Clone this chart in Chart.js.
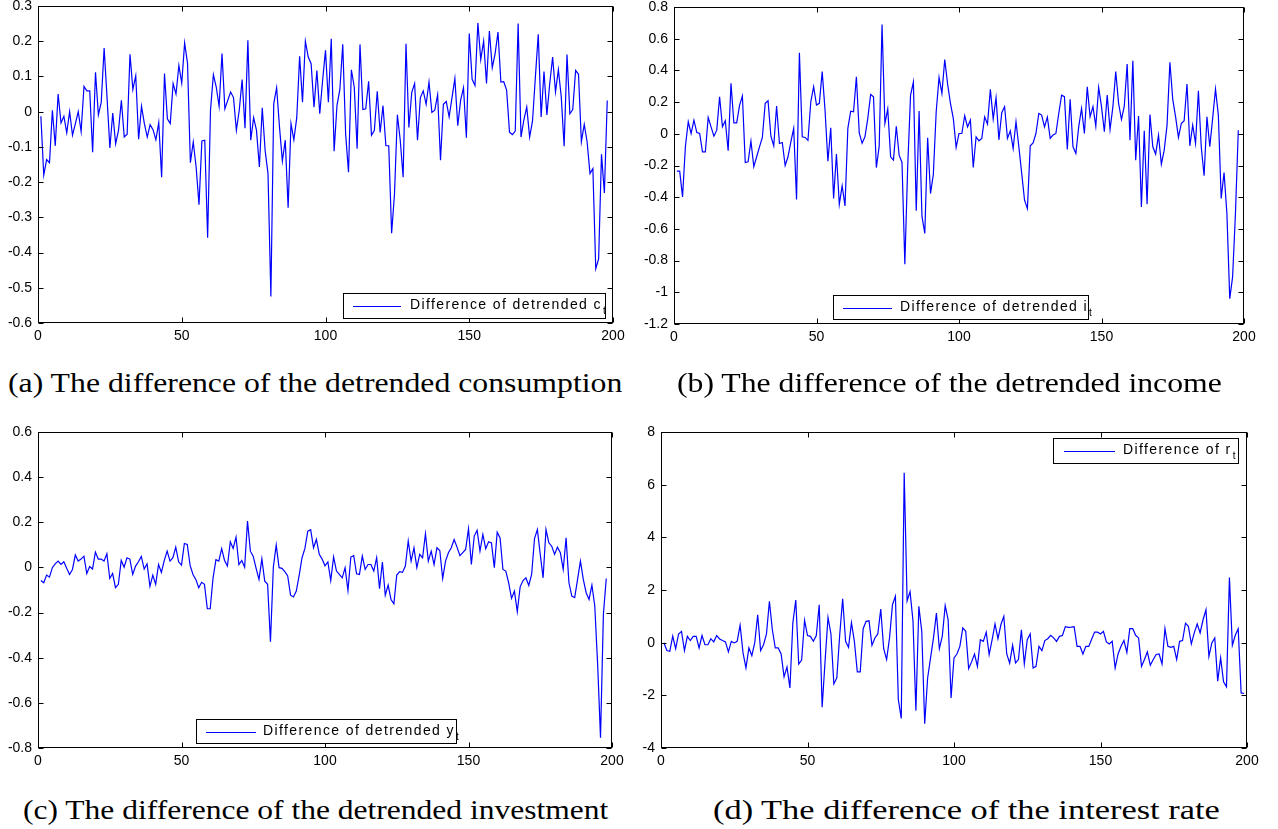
<!DOCTYPE html>
<html>
<head>
<meta charset="utf-8">
<script src="https://cdn.jsdelivr.net/npm/chart.js@4.4.1/dist/chart.umd.min.js"></script>
<style>
  html, body { margin: 0; padding: 0; background: #fff; }
  body { width: 1278px; height: 829px; position: relative; overflow: hidden; }
  canvas { position: absolute; }
  .cap {
    position: absolute;
    font-family: "Liberation Serif", "Times New Roman", serif;
    font-size: 27px;
    line-height: 30px;
    white-space: nowrap;
    transform-origin: left center;
    color: #000;
  }
</style>
</head>
<body>
<canvas id="chartA"></canvas>
<canvas id="chartB"></canvas>
<canvas id="chartC"></canvas>
<canvas id="chartD"></canvas>

<div class="cap" id="capA" data-w="614" style="left:8px; top:368px">(a) The difference of the detrended consumption</div>
<div class="cap" id="capB" data-w="545" style="left:677px; top:368px">(b) The difference of the detrended income</div>
<div class="cap" id="capC" data-w="585" style="left:23px; top:795px">(c) The difference of the detrended investment</div>
<div class="cap" id="capD" data-w="507" style="left:713px; top:795px">(d) The difference of the interest rate</div>

<script>
// ==== Data ====
const xTicks = [0, 50, 100, 150, 200];

const consTicks = [-0.6, -0.5, -0.4, -0.3, -0.2, -0.1, 0, 0.1, 0.2, 0.3];
const consDiff = [
  -0.013, -0.18, -0.136, -0.145, 0.004, -0.097, 0.05, -0.032, -0.013, -0.06,
  0, -0.067, -0.034, 0, -0.056, 0.072, 0.059, 0.059, -0.115, 0.112,
  -0.009, 0.027, 0.181, 0.042, -0.103, -0.004, -0.091, -0.053, 0.032, -0.072,
  -0.064, 0.163, 0.063, 0.102, -0.078, 0.015, -0.034, -0.072, -0.037, -0.051,
  -0.08, -0.031, -0.186, 0.108, -0.02, -0.034, 0.08, 0.05, 0.131, 0.081,
  0.195, 0.138, -0.145, -0.086, -0.157, -0.264, -0.083, -0.081, -0.358, 0.004,
  0.105, 0.07, 0.015, 0.165, 0.008, 0.032, 0.056, 0.04, -0.053, 0.004,
  0.091, -0.047, 0.203, -0.081, -0.017, -0.053, -0.157, 0.011, -0.11, -0.176,
  -0.525, 0.023, 0.068, -0.044, -0.14, -0.081, -0.273, -0.034, -0.08, -0.017,
  0.157, 0.027, 0.2, 0.155, 0.136, 0.013, 0.117, -0.006, 0.089, 0.174,
  0.027, 0.207, -0.112, 0.018, 0.063, 0.191, -0.063, -0.172, 0.119, 0.07,
  -0.105, 0.191, 0.006, 0.008, 0.086, -0.067, -0.053, 0.058, -0.059, 0.017,
  -0.096, -0.097, -0.345, -0.233, -0.009, -0.081, -0.186, 0.193, -0.045, 0.055,
  0.08, -0.081, 0.04, 0.059, 0.021, 0.084, -0.002, 0.004, 0.048, -0.138,
  0.021, 0.029, -0.015, 0.04, 0.094, -0.04, 0.032, 0.068, -0.074, 0.222,
  0.092, 0.074, 0.252, 0.148, 0.2, 0.08, 0.229, 0.125, 0.165, 0.226,
  0.084, 0.085, 0.061, -0.058, -0.065, -0.055, 0.25, -0.072, -0.023, 0.013,
  -0.072, -0.027, 0.098, 0.22, -0.015, 0.114, -0.009, 0.08, 0.155, 0.056,
  0.119, 0.042, -0.098, 0.162, -0.006, 0.006, 0.117, 0.106, -0.085, -0.036,
  -0.086, -0.176, -0.162, -0.446, -0.418, -0.121, -0.231, 0.032
];

const incTicks = [-1.2, -1, -0.8, -0.6, -0.4, -0.2, 0, 0.2, 0.4, 0.6, 0.8];
const incDiff = [
  -0.236, -0.236, -0.398, -0.08, 0.076, 0.002, 0.086, 0.008, 0.002, -0.114,
  -0.114, 0.103, 0.044, -0.015, 0.023, 0.234, 0.044, 0.082, -0.107, 0.318,
  0.069, 0.069, 0.179, 0.238, -0.181, -0.177, -0.046, -0.208, -0.145, -0.082,
  -0.023, 0.192, 0.208, -0.015, -0.076, 0.175, -0.061, -0.055, -0.2, -0.145,
  -0.051, 0.034, -0.415, 0.512, -0.019, -0.023, -0.042, 0.202, 0.297, 0.181,
  0.192, 0.392, 0.149, -0.173, 0.038, -0.408, -0.128, -0.444, -0.328, -0.455,
  0.034, 0.143, 0.139, 0.36, 0.006, -0.06, -0.019, 0.097, 0.248, 0.234,
  -0.213, -0.078, 0.69, 0.065, 0.156, -0.145, -0.166, 0.048, -0.135, -0.181,
  -0.823, -0.208, 0.244, 0.326, -0.486, 0.143, -0.52, -0.629, -0.025, -0.377,
  -0.255, 0.139, 0.356, 0.255, 0.469, 0.314, 0.192, 0.097, -0.086, 0.002,
  0.002, 0.114, 0.044, 0.086, -0.213, -0.019, -0.044, -0.029, 0.107, 0.061,
  0.28, 0.093, 0.227, -0.038, 0.133, 0.171, -0.029, 0.019, -0.093, 0.076,
  -0.082, -0.25, -0.419, -0.472, -0.076, -0.057, 0.002, 0.128, 0.118, 0.044,
  0.105, -0.029, -0.008, 0.002, 0.128, 0.244, 0.234, -0.099, 0.217, -0.082,
  -0.124, 0.044, 0.16, 0.002, 0.297, 0.107, 0.171, 0.048, 0.293, 0.171,
  0.013, 0.244, 0.027, 0.171, 0.392, 0.192, 0.091, 0.175, 0.44, -0.04,
  0.461, -0.166, 0.112, -0.461, 0.019, -0.444, 0.122, -0.082, -0.128, -0.008,
  -0.192, -0.103, 0.055, 0.451, 0.217, 0.107, -0.023, 0.065, 0.082, 0.314,
  -0.076, 0.055, -0.061, 0.272, -0.082, -0.265, 0.107, -0.082, 0.097, 0.282,
  0.118, -0.408, -0.244, -0.503, -1.04, -0.903, -0.503, 0.023
];

const invTicks = [-0.8, -0.6, -0.4, -0.2, 0, 0.2, 0.4, 0.6];
const invDiff = [
  -0.058, -0.068, -0.034, -0.043, -0.001, 0.016, 0.028, 0.013, 0.025, -0.004,
  -0.031, -0.009, 0.055, 0.028, 0.037, 0.05, -0.027, 0.004, -0.007, 0.068,
  0.037, 0.037, 0.028, 0.061, -0.049, -0.027, -0.09, -0.075, 0.031, 0.001,
  0.043, 0.037, -0.031, 0.006, 0.025, 0.049, -0.007, 0.016, -0.084, -0.034,
  -0.075, 0.013, -0.022, 0.031, 0.072, 0.028, 0.043, 0.09, 0.025, 0.01,
  0.106, 0.102, 0.009, -0.031, -0.053, -0.09, -0.066, -0.075, -0.183, -0.183,
  -0.046, 0.034, 0.028, 0.083, 0.031, 0.006, 0.114, 0.084, 0.134, 0.013,
  0.031, 0.001, 0.205, 0.072, 0.049, -0.004, -0.053, 0.038, -0.061, -0.075,
  -0.329, 0.001, 0.099, -0.001, -0.004, -0.019, -0.038, -0.123, -0.131, -0.105,
  -0.035, 0.043, 0.084, 0.161, 0.167, 0.087, 0.124, 0.058, 0.037, 0.007,
  0.024, -0.058, 0.046, -0.016, -0.031, -0.046, -0.001, -0.102, 0.046, 0.052,
  -0.028, -0.031, 0.05, -0.009, 0.013, 0.013, -0.016, 0.043, -0.094, 0.024,
  -0.123, -0.078, -0.142, -0.161, -0.034, -0.019, -0.022, 0.006, 0.117, 0.028,
  0.087, -0.001, 0.058, 0.043, 0.149, 0.028, 0.072, 0.013, 0.087, 0.075,
  -0.049, 0.028, 0.065, 0.087, 0.124, 0.09, 0.052, 0.066, 0.08, 0.171,
  0.013, 0.139, 0.165, 0.072, 0.146, 0.083, 0.114, 0.109, -0.001, 0.156,
  0.131, -0.009, -0.016, -0.068, -0.137, -0.105, -0.196, -0.086, -0.058, -0.046,
  -0.08, -0.031, 0.128, 0.168, 0.058, -0.046, 0.168, 0.109, 0.094, 0.058,
  0.09, 0.065, -0.009, 0.131, -0.068, -0.127, -0.134, -0.053, 0.028, -0.053,
  -0.112, -0.142, -0.078, -0.171, -0.43, -0.754, -0.208, -0.049
];

const rateTicks = [-4, -2, 0, 2, 4, 6, 8];
const rateDiff = [
  0, -0.3, -0.33, 0.25, -0.23, 0.33, 0.43, -0.3, 0.24, 0.08,
  0.24, 0.24, -0.2, 0.27, -0.08, -0.08, 0.15, 0.03, 0.27, 0.14,
  0.08, 0.03, -0.35, 0.05, -0.01, 0.05, 0.66, -0.39, -0.96, -0.2,
  -0.49, 0, 1.06, -0.3, -0.08, 0.33, 1.57, 0.49, -0.2, -0.2,
  -0.43, -1.3, -0.93, -1.72, 0.75, 1.62, -0.81, -0.66, 0.85, 0.27,
  0.24, 0.05, 0.27, 1.44, -2.45, -0.7, 0.96, 0.33, -1.57, -1.34,
  0.3, 1.67, 0.05, -0.18, 0.76, 0.05, -1.11, -1.11, 0.53, 0.81,
  0.83, -0.1, 0.18, 0.33, 1.28, -0.23, -0.64, 0.18, 1.44, 1.76,
  -2.16, -2.88, 6.45, 1.59, 1.94, 0.83, -2.58, 1.38, 0.43, -3.08,
  -1.34, -0.58, 0.18, 1.12, -0.23, 0.24, 1.41, 0.87, -2.1, -0.58,
  -0.43, -0.14, 0.56, 0.43, -0.98, -0.73, -0.43, -0.9, 0.11, 0.05,
  0.4, -0.45, 0.11, 0.71, 0.15, 0.68, 1.0, -0.43, -0.78, -0.1,
  -0.77, -0.64, 0.49, -0.81, 0.11, 0.33, -0.96, -0.9, -0.14, -0.3,
  0.08, 0.15, 0.28, 0.18, 0.05, 0.24, 0.27, 0.61, 0.58, 0.59,
  0.61, -0.14, -0.14, -0.43, -0.14, -0.14, 0.14, 0.4, 0.4, 0.33,
  0.43, 0.03, -0.05, 0.05, -0.96, -0.43, -0.14, 0.08, -0.37, 0.53,
  0.53, 0.28, 0.18, -0.9, -0.64, -0.35, -0.86, -0.64, -0.45, -0.43,
  -0.81, 0.53, -0.14, -0.18, -0.14, -0.64, 0.05, 0.08, 0.74, 0.62,
  -0.05, 0.37, 0.71, 0.37, 0.87, 1.25, -0.52, -0.01, 0.18, -1.46,
  -0.58, -1.49, -1.68, 2.47, -0.1, 0.28, 0.53, -1.91, -1.93
];

// ==== Frame, inward ticks and MATLAB-style legend ====
const framePlugin = {
  id: 'frame',
  afterDraw(chart, args, opts) {
    const { ctx, chartArea: a, scales } = chart;
    const L = Math.round(a.left) + 0.5, R = Math.round(a.right) - 0.5;
    const T = Math.round(a.top) + 0.5, B = Math.round(a.bottom) - 0.5;
    ctx.save();
    ctx.strokeStyle = '#000';
    ctx.lineWidth = 1;
    ctx.beginPath();
    scales.x.ticks.forEach(t => {
      const p = Math.round(scales.x.getPixelForValue(t.value)) + 0.5;
      ctx.moveTo(p, B); ctx.lineTo(p, B - 5);
      ctx.moveTo(p, T); ctx.lineTo(p, T + 5);
    });
    scales.y.ticks.forEach(t => {
      const p = Math.round(scales.y.getPixelForValue(t.value)) + 0.5;
      ctx.moveTo(L, p); ctx.lineTo(L + 5, p);
      ctx.moveTo(R, p); ctx.lineTo(R - 5, p);
    });
    ctx.stroke();
    ctx.strokeRect(L, T, R - L, B - T);

    const lg = opts.legend;
    const bx = Math.round(lg.x - opts.offX) + 0.5, by = Math.round(lg.y - opts.offY) + 0.5;
    ctx.fillStyle = '#fff';
    ctx.fillRect(bx, by, lg.w, lg.h);
    ctx.strokeRect(bx, by, lg.w, lg.h);
    const cy = Math.round(by + lg.h / 2) + 0.5;
    ctx.strokeStyle = '#0000ff';
    ctx.beginPath();
    ctx.moveTo(lg.line[0] - opts.offX, cy);
    ctx.lineTo(lg.line[1] - opts.offX, cy);
    ctx.stroke();

    const tx = lg.textX - opts.offX, base = by + 15.5;
    ctx.fillStyle = '#000';
    ctx.textBaseline = 'alphabetic';
    ctx.font = '14px "Liberation Sans", Arial, sans-serif';
    ctx.letterSpacing = '1.4px';
    ctx.fillText(lg.text, tx, base);
    const w = ctx.measureText(lg.text).width;
    ctx.font = '10px "Liberation Sans", Arial, sans-serif';
    ctx.letterSpacing = '0px';
    ctx.fillText('t', tx + w + 1, base + 5);
    ctx.restore();
  }
};

// ==== Panel builder ====
function makePanel(id, plot, values, yTicks, legend) {
  const offX = plot.left - 50, offY = plot.top - 20;
  const canvas = document.getElementById(id);
  canvas.width = plot.right - plot.left + 80;
  canvas.height = plot.bottom - plot.top + 55;
  canvas.style.left = offX + 'px';
  canvas.style.top = offY + 'px';

  const tickFont = { family: '"Liberation Sans", Arial, sans-serif', size: 14 };

  new Chart(canvas.getContext('2d'), {
    type: 'line',
    data: {
      datasets: [{
        data: values.map((v, i) => ({ x: i + 1, y: v })),
        borderColor: '#0000ff',
        borderWidth: 1.2,
        pointRadius: 0,
        tension: 0,
        fill: false
      }]
    },
    options: {
      responsive: false,
      animation: false,
      devicePixelRatio: 1,
      layout: { padding: { top: 20, right: 30, left: 0, bottom: 0 } },
      plugins: {
        legend: { display: false },
        tooltip: { enabled: false },
        frame: { legend, offX, offY }
      },
      scales: {
        x: {
          type: 'linear',
          min: 0,
          max: 200,
          afterBuildTicks: s => { s.ticks = xTicks.map(v => ({ value: v })); },
          afterFit: s => { s.height = 35; },
          grid: { display: false, drawTicks: false },
          border: { display: false },
          ticks: { font: tickFont, color: '#000', padding: 5, autoSkip: false, maxRotation: 0, callback: v => String(v) }
        },
        y: {
          type: 'linear',
          min: yTicks[0],
          max: yTicks[yTicks.length - 1],
          afterBuildTicks: s => { s.ticks = yTicks.map(v => ({ value: v })); },
          afterFit: s => { s.width = 50; },
          grid: { display: false, drawTicks: false },
          border: { display: false },
          ticks: { font: tickFont, color: '#000', padding: 6, autoSkip: false, callback: v => String(v) }
        }
      }
    },
    plugins: [framePlugin]
  });
}

makePanel('chartA', { left: 38, top: 6, right: 613, bottom: 323 }, consDiff, consTicks,
  { x: 343, y: 292.5, w: 262, h: 25, line: [353, 401], textX: 410, text: 'Difference of detrended c' });
makePanel('chartB', { left: 674, top: 7, right: 1244, bottom: 324 }, incDiff, incTicks,
  { x: 833, y: 295, w: 255, h: 24, line: [843, 892], textX: 900, text: 'Difference of detrended i' });
makePanel('chartC', { left: 38, top: 432, right: 612, bottom: 748 }, invDiff, invTicks,
  { x: 196, y: 719, w: 260, h: 24, line: [206, 256], textX: 263, text: 'Difference of detrended y' });
makePanel('chartD', { left: 661, top: 432, right: 1247, bottom: 748 }, rateDiff, rateTicks,
  { x: 1053, y: 437.5, w: 185, h: 25, line: [1064, 1115], textX: 1123, text: 'Difference of r' });

// ==== Captions stretched to the reference widths ====
document.querySelectorAll('.cap').forEach(el => {
  const target = parseFloat(el.dataset.w);
  el.style.transform = `scaleX(${target / el.offsetWidth})`;
});
</script>
</body>
</html>
